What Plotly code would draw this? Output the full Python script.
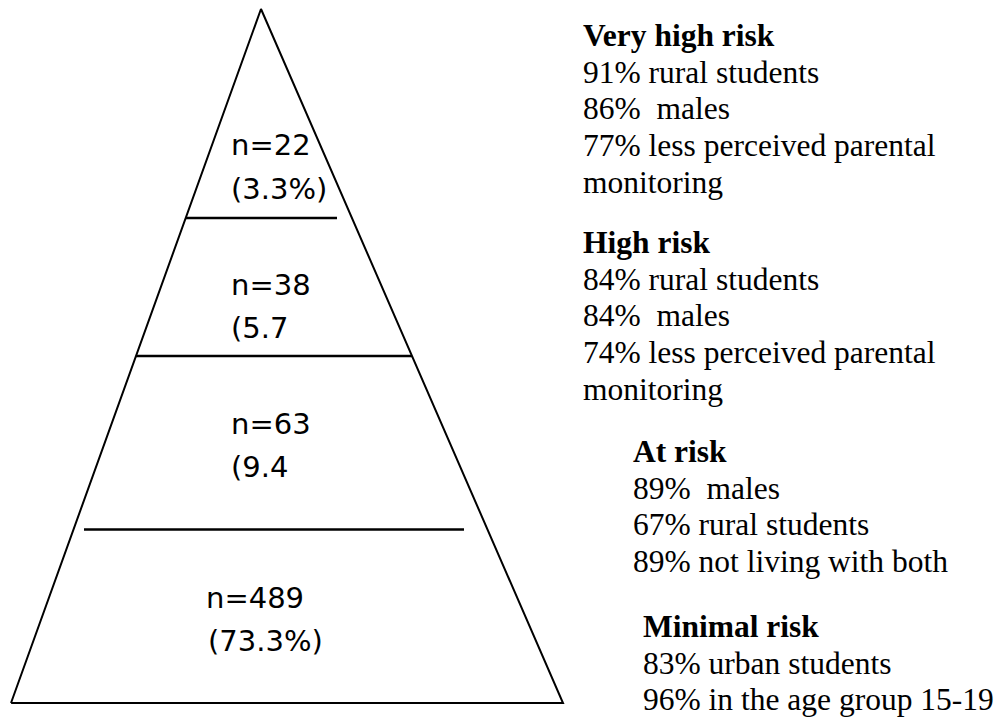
import plotly.graph_objects as go

# ---- data ----
tiers = ["Very high risk", "High risk", "At risk", "Minimal risk"]
counts = [22, 38, 63, 489]
pct_labels = ["(3.3%)", "(5.7", "(9.4", "(73.3%)"]
char_very_high = ["91% rural students", "86%  males", "77% less perceived parental", "monitoring"]
char_high = ["84% rural students", "84%  males", "74% less perceived parental", "monitoring"]
char_at = ["89%  males", "67% rural students", "89% not living with both"]
char_min = ["83% urban students", "96% in the age group 15-19"]

# ---- layout geometry (page pixel canvas) ----
W, H = 1003, 719
OFF = 8  # page body margin
apex = (261, 9)
base_l = (11, 703)
base_r = (563, 703)
dividers = [  # (x0, x1, y)
    (186, 337, 218),
    (136, 412, 356),
    (84, 464, 529.5),
]
label_pos = [  # (x, baseline of n line, baseline of pct line)
    (230, 155, 199),
    (230, 295, 338),
    (230, 434, 477),
    (205, 608, 651),
]
pct_x = [230, 230, 230, 207]
blocks = [  # (x, first baseline)
    (582, 46),
    (582, 253),
    (632, 462),
    (642, 637),
]
line_gap = 36.8

fig = go.Figure()

# pyramid outline
fig.add_trace(go.Scatter(
    x=[base_l[0], apex[0], base_r[0], base_l[0]],
    y=[base_l[1], apex[1], base_r[1], base_l[1]],
    mode="lines", line=dict(color="black", width=2), hoverinfo="skip", showlegend=False))

for x0, x1, y in dividers:
    fig.add_trace(go.Scatter(x=[x0, x1], y=[y, y], mode="lines",
                             line=dict(color="black", width=2.5), hoverinfo="skip", showlegend=False))

sans = "DejaVu Sans"
serif = "Liberation Serif"
SFS = 29
RFS = 31.5

def ann(x, baseline, text, family, size, k=0.34):
    fig.add_annotation(x=x, y=baseline - k * size, text=text, xref="x", yref="y",
                       xanchor="left", yanchor="middle", showarrow=False, borderpad=0,
                       font=dict(family=family, size=size, color="black"))

for (x, b1, b2), px, n, p in zip(label_pos, pct_x, counts, pct_labels):
    ann(x, b1, f"n={n}", sans, SFS, 0.346)
    ann(px, b2, p, sans, SFS, 0.346)

groups = [char_very_high, char_high, char_at, char_min]
for (bx, by), tier, lines in zip(blocks, tiers, groups):
    ann(bx, by, f"<b>{tier}</b>", serif, RFS)
    for i, t in enumerate(lines):
        ann(bx, by + (i + 1) * line_gap, t, serif, RFS)

fig.update_xaxes(range=[OFF, W + OFF], visible=False, fixedrange=True)
fig.update_yaxes(range=[H + OFF, OFF], visible=False, fixedrange=True)
fig.update_layout(width=W, height=H, margin=dict(l=0, r=0, t=0, b=0),
                  paper_bgcolor="white", plot_bgcolor="white", showlegend=False)

fig.write_html("out.html", config={"displayModeBar": False})
